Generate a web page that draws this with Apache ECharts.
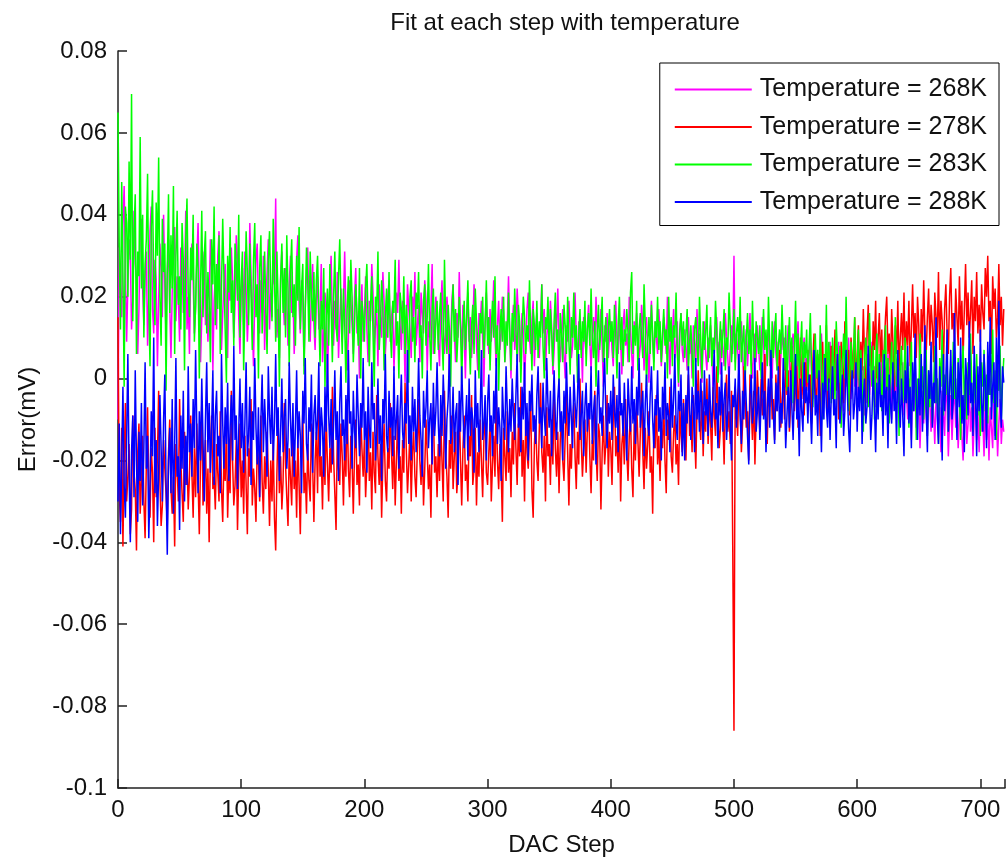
<!DOCTYPE html>
<html>
<head>
<meta charset="utf-8">
<script src="https://cdn.jsdelivr.net/npm/echarts@6/dist/echarts.min.js"></script>
<style>
  html, body { margin: 0; padding: 0; background: #fff; }
  #chart { width: 1008px; height: 862px; }
</style>
</head>
<body>
<div id="chart"></div>
<script>
// Fit error per DAC step, one trace per temperature.
// Listed values are in units of 0.1 uV (1e-4 mV); array index = DAC step.
const UNIT_MV = 1e-4;

const seriesNames = ['Temperature = 268K', 'Temperature = 278K', 'Temperature = 283K', 'Temperature = 288K'];
const seriesColors = ['#ff00ff', '#ff0000', '#00ff00', '#0000ff'];

const xTickLabels = [0, 100, 200, 300, 400, 500, 600, 700];
const yTickLabels = [-0.1, -0.08, -0.06, -0.04, -0.02, 0, 0.02, 0.04, 0.06, 0.08];

const err268 = [
-100,320,210,150,380,470,260,90,230,340,300,120,190,410,280,240,60,170,350,390,
220,130,260,310,80,200,360,420,170,110,290,240,30,190,330,270,150,400,230,100,
260,340,180,50,210,300,370,140,250,190,90,320,280,160,230,410,120,200,60,270,
330,240,110,170,290,380,200,40,150,260,310,130,220,90,180,340,270,20,190,250,
120,300,360,210,70,160,230,280,140,50,260,190,320,240,100,180,350,290,150,60,
210,270,130,310,220,90,170,380,250,140,30,200,290,330,180,110,240,160,300,70,
190,260,340,120,210,150,280,230,440,100,170,50,250,310,200,130,270,190,80,230,
300,160,220,60,140,290,350,180,110,240,200,30,170,260,320,150,90,210,280,130,
70,190,250,120,160,280,40,110,210,170,-10,130,230,300,150,80,190,120,260,50,
140,220,90,180,310,160,20,100,240,190,130,60,200,270,110,150,0,170,230,90,
160,250,120,40,190,140,280,210,80,130,170,30,230,150,100,260,190,60,120,200,
240,90,150,180,20,110,210,160,290,130,70,190,140,-10,100,230,170,120,50,200,
150,260,80,130,180,40,210,160,110,240,190,20,140,100,170,280,60,130,200,150,
90,30,170,240,130,60,110,200,150,-10,80,190,230,120,40,160,100,260,130,70,
180,110,0,140,210,90,150,50,120,230,170,80,20,160,130,190,100,-20,140,210,
120,60,170,90,150,240,100,30,130,190,70,110,200,160,40,90,140,250,110,0,
130,180,70,110,220,150,40,90,160,120,-20,80,170,210,100,60,140,190,30,120,
160,90,50,140,230,110,170,20,100,150,80,190,130,10,70,160,120,220,90,40,
110,170,60,0,130,90,190,120,50,80,160,210,100,30,140,70,110,-10,150,90,
60,130,180,90,20,110,150,70,200,120,40,100,170,80,-20,130,90,160,50,110,
140,70,30,120,190,100,60,150,90,10,130,170,80,110,40,200,120,60,0,140,
90,160,110,50,80,180,130,20,100,150,70,-10,120,190,90,40,140,100,60,170,
110,30,80,150,120,60,200,90,10,130,100,170,50,80,140,-20,110,160,70,40,
120,80,20,150,60,100,0,130,90,40,170,70,110,30,-10,90,140,60,20,100,
50,130,80,-20,60,110,150,40,90,10,120,70,30,160,100,50,-10,80,130,60,
300,40,110,70,10,90,140,60,-20,80,120,30,100,160,50,0,70,110,40,130,
80,20,60,150,100,-30,50,90,120,30,70,0,110,140,60,20,90,-10,50,120,
70,100,10,60,130,40,-20,80,110,50,0,90,140,30,60,-40,70,100,20,50,
-20,60,100,10,-50,40,80,0,30,-70,50,110,20,-30,60,10,-60,40,90,-10,
30,-40,70,20,0,90,-30,50,10,-80,40,60,-10,100,20,-50,30,70,-20,0,
50,-60,20,80,-10,30,-90,10,60,40,-40,0,90,-20,30,-70,50,10,-30,70,
0,-50,40,20,-80,60,-10,30,-100,10,50,-40,20,-60,70,0,-30,40,-90,10,
-40,-100,0,-60,-150,-20,-80,20,-120,-50,-10,-170,-70,-30,-110,10,-90,-140,-40,-60,
-130,-20,-80,-160,-50,0,-110,-70,-180,-30,-90,-140,-10,-60,-190,-100,-40,-150,-70,-20,
-120,-60,-170,-90,-30,-140,-200,-80,-50,-160,-110,-20,-130,-70,-190,-100,-40,-150,-80,-180,
-60,-130,-100,-190,-40,-150,-90,-200,-70,-120,-170,-30,-140,-80,-190,-110,-50,-160,-100,-130
];

const err278 = [
150,-280,-350,-120,-410,-200,-60,-300,-240,-160,-380,-320,-90,-230,-270,-420,-180,-110,-330,-250,
-140,-300,-390,-210,-70,-260,-340,-170,-230,-400,-120,-290,-190,-30,-250,-360,-310,-150,-220,-280,
-360,-180,-100,-270,-330,-240,-410,-160,-220,-300,-50,-200,-280,-350,-130,-260,-190,-320,-240,-90,
-230,-340,-170,-290,-110,-250,-380,-200,-60,-310,-260,-150,-330,-220,-400,-180,-90,-270,-240,-320,
-160,-230,-300,-80,-270,-350,-190,-250,-120,-340,-220,-280,-30,-200,-310,-260,-150,-370,-230,-110,
-290,-200,-330,-140,-260,-380,-170,-240,-50,-310,-220,-270,-350,-160,-200,-300,-90,-250,-330,-190,
-270,-130,-230,-360,-200,-300,-150,-340,-420,-230,-100,-280,-190,-320,-250,-60,-210,-290,-360,-170,
-240,-310,-120,-270,-200,-340,-150,-260,-380,-190,-80,-280,-230,-330,-160,-250,-300,-110,-210,-350,
-200,-130,-280,-60,-240,-190,-320,-150,-260,-90,-210,-300,-170,-230,-20,-190,-280,-370,-140,-220,
-260,-110,-190,-310,-160,-240,-50,-220,-290,-140,-200,-330,-180,-100,-260,-210,-310,-80,-170,-240,
-150,-290,-210,-70,-250,-180,-320,-130,-230,-280,-40,-190,-260,-160,-340,-200,-110,-250,-300,-170,
-220,-60,-180,-270,-140,-310,-200,-90,-250,-190,-330,-150,-230,-10,-170,-280,-210,-120,-300,-180,
-130,-240,-290,-170,-50,-200,-260,-150,-310,-220,-100,-180,-270,-210,-340,-140,-70,-230,-190,-290,
-160,-250,-110,-200,-300,-30,-180,-240,-340,-150,-220,-90,-270,-190,-130,-280,-230,-60,-200,-310,
-170,-90,-250,-210,-300,-140,-190,-40,-260,-220,-120,-310,-180,-240,-100,-200,-290,-150,-70,-230,
-260,-180,-110,-300,-210,-140,-240,-30,-200,-270,-160,-220,-350,-120,-190,-250,-80,-230,-170,-290,
-130,-210,-60,-170,-260,-110,-190,-20,-240,-150,-300,-90,-180,-220,-130,-50,-270,-340,-160,-100,
-200,-250,-120,-10,-180,-230,-140,-300,-70,-190,-160,-260,-100,-210,-30,-170,-240,-130,-280,-150,
-90,-200,-250,-140,-40,-180,-310,-160,-220,-110,-60,-190,-270,-130,-210,0,-150,-240,-170,-100,
-230,-120,-60,-190,-280,-150,-200,-30,-170,-250,-110,-140,-320,-180,-90,-210,-160,-40,-240,-130,
-170,-260,-100,-20,-190,-140,-230,-80,-300,-160,-120,-210,-50,-180,-250,-140,-90,-220,-290,-110,
-200,-60,-150,-240,-130,-10,-180,-270,-120,-220,-160,-80,-230,-190,-330,-110,-170,-40,-210,-140,
-250,-120,-170,-60,-200,-280,-100,-150,-20,-190,-230,-130,-90,-210,-160,-260,-70,-140,-180,-50,
-110,-200,-60,10,-140,-90,-180,-40,-120,-220,-70,20,-100,-150,-30,-190,-80,-130,0,-160,
-60,-110,-200,-20,-90,-140,30,-70,-170,-120,-40,-100,-210,-50,10,-130,-80,-160,-30,-410,
-860,-20,-90,-140,0,-60,-180,-110,30,-50,-120,-80,-200,10,-70,-150,-30,-210,-90,20,
-60,-130,0,-90,-40,60,-110,-160,-20,-70,40,-100,-50,-150,10,-80,-30,70,-120,-60,
-10,-100,50,-40,20,-130,-60,80,10,-80,-20,60,-120,0,100,-50,30,-90,40,-30,
70,-60,10,-110,40,110,-20,-70,60,20,-140,30,90,-40,0,130,-80,50,-10,80,
-50,20,120,-30,60,-100,10,90,40,-60,140,30,-20,70,-90,100,50,0,150,-40,
60,130,-20,90,20,170,50,-60,110,180,30,80,-10,140,70,190,0,100,160,40,
120,-30,80,150,200,60,110,10,170,90,-40,130,60,190,20,100,160,70,210,40,
140,80,190,30,120,230,100,160,50,200,130,0,170,90,240,110,60,150,220,80,
180,130,40,210,150,100,260,70,190,140,20,170,230,110,60,200,270,120,160,90,
220,150,80,250,120,190,50,170,280,130,210,100,160,240,60,200,140,260,110,180,
90,230,160,120,270,200,300,140,190,60,250,170,220,100,150,280,130,200,80,170
];

const err283 = [
650,330,120,480,260,-20,420,380,200,530,290,695,140,360,450,60,310,250,590,220,
400,100,280,340,500,180,30,370,460,240,130,430,300,540,200,80,390,260,330,-30,
270,450,160,350,220,470,60,300,410,180,250,120,380,290,20,340,440,210,150,320,
240,400,90,180,330,270,0,220,410,150,300,360,110,260,190,40,340,230,420,130,
280,170,350,60,220,390,250,120,-10,300,210,370,160,240,80,330,280,190,400,100,
240,310,20,180,360,260,130,330,200,70,290,380,150,230,0,270,350,110,200,310,
170,60,290,360,220,140,390,250,90,310,180,-20,240,330,160,270,100,350,210,30,
260,340,150,230,80,300,190,370,120,220,280,10,170,320,240,90,310,200,140,260,
100,240,300,160,30,190,120,270,-20,150,220,80,280,170,40,200,310,130,90,250,
340,180,60,220,140,-10,170,250,110,290,200,40,130,230,160,80,270,0,190,150,
90,220,280,140,30,180,250,110,-20,200,160,310,70,130,240,180,20,150,220,100,
260,120,50,190,160,290,80,140,0,210,170,110,250,60,180,130,-10,200,240,90,
150,40,210,170,260,100,130,0,190,230,80,150,280,110,20,170,220,60,140,190,
70,160,210,100,20,290,140,60,180,120,-20,150,230,90,170,40,110,200,130,-10,
120,190,70,150,240,100,10,130,180,60,220,140,90,0,160,110,200,50,130,240,
80,150,20,120,190,100,250,60,130,-30,110,170,90,200,40,140,80,210,110,20,
160,90,220,120,40,180,140,-10,100,200,150,60,130,90,240,110,20,170,130,70,
190,50,140,100,230,80,0,150,120,200,60,170,110,30,140,210,90,120,-20,160,
110,40,180,130,60,200,90,10,150,100,210,70,130,-10,110,170,50,140,90,190,
30,120,160,80,220,100,50,140,-20,110,180,70,130,200,40,100,150,10,120,170,
90,140,50,180,110,0,130,200,70,150,30,120,90,170,110,40,210,260,60,130,
80,190,20,120,160,100,50,230,130,-20,90,150,60,180,110,20,140,100,200,70,
140,40,110,170,80,120,0,200,90,150,30,130,100,210,60,-10,120,160,80,140,
50,110,170,20,90,130,60,-20,120,150,80,30,200,100,0,140,70,110,180,40,
90,150,30,100,60,190,120,-10,80,140,50,110,170,20,100,70,210,130,40,90,
170,20,110,150,70,200,40,90,130,-20,100,160,60,120,10,190,80,40,140,100,
60,130,0,100,170,70,120,30,200,90,-10,140,50,110,160,20,80,120,60,180,
90,20,130,-30,80,150,40,100,-60,60,190,30,110,0,70,140,-20,90,50,120,
-10,80,160,20,-70,50,110,0,70,-40,130,40,-100,60,20,180,-30,90,10,-60,
100,30,-50,140,60,-10,80,-120,40,110,0,200,50,-80,20,90,-30,60,150,-40,
30,120,-60,70,0,-130,50,100,10,-70,160,40,-20,80,-100,30,110,-40,60,0,
-80,70,20,130,-30,50,-110,10,90,-50,40,150,-20,60,-140,30,80,-60,0,100,
-50,40,-120,10,90,-80,-20,60,-150,0,-60,110,-30,30,-100,-10,70,-140,20,-70,
40,-110,-30,80,-60,0,-160,50,-20,120,-90,10,-40,60,-130,-10,30,-80,90,-50,
0,-120,50,-30,-150,20,80,-70,10,-100,40,-40,110,-10,-130,30,-60,60,-90,0,
-140,40,-20,70,-80,10,-110,50,-40,0,120,-60,20,-150,30,-30,80,-100,-10,50
];

const err288 = [
-300,-110,-380,-210,-20,-260,-340,-150,60,-230,-400,-180,-90,-290,20,-200,-350,-130,-250,-60,
-310,-170,40,-220,-140,-390,-260,-80,-190,100,-280,-150,-360,-230,-40,-170,-300,-100,10,-250,
-430,-200,-120,-280,-50,-330,-160,50,-240,-190,-370,-90,-220,-30,-300,-140,-260,30,-180,-110,
-240,-50,-170,70,-130,-280,-80,-200,0,-150,-300,-100,40,-180,-60,-230,-120,20,-260,-90,
-30,-190,-140,-280,60,-110,-220,-70,-160,-10,-250,-120,-40,-200,80,-150,-90,-270,-130,0,
-170,-60,-230,-110,40,-190,-140,-20,-260,-80,-150,50,-120,-210,-70,-290,-100,10,-180,-50,
-130,-240,30,-90,-160,-20,-200,-110,60,-140,-70,-250,-130,0,-180,-90,-50,-220,-150,40,
-100,-190,-60,-240,-120,20,-170,-80,-140,-280,-30,-110,50,-160,-200,-70,-130,10,-230,-90,
-40,-150,-100,40,-190,-70,-120,-240,-20,-130,60,-90,-170,-50,-210,-110,20,-150,-80,-250,
-60,30,-140,-100,-200,-40,-160,70,-110,-80,-220,-30,-130,-170,10,-90,-190,-60,-120,50,
-150,-80,-230,-20,-120,-170,40,-100,-60,-200,-130,0,-160,-90,-250,-50,-110,60,-140,-180,
-30,-120,-70,-190,30,-150,-100,-40,-220,-80,10,-130,-170,-60,-110,70,-160,-90,-200,-20,
-130,-50,-180,-110,50,-90,-150,-240,-30,-120,-70,20,-170,-100,-60,-210,-10,-140,-80,40,
-110,-190,-40,-140,10,-80,-220,-100,-50,60,-160,-120,-20,-180,-90,-60,-260,-30,-130,30,
-80,-170,-110,-40,-200,0,-140,-70,-100,-230,20,-120,-60,-180,-90,70,-150,-110,-40,-200,
-60,10,-130,-90,-190,-30,-110,50,-160,-70,-120,-250,-20,-100,-150,30,-80,-180,-50,-130,
0,-90,-150,-40,60,-120,-70,-180,-20,-100,40,-140,-60,-200,-30,-80,10,-130,-90,-160,
-40,30,-110,-70,-170,-10,-90,-140,50,-60,-120,-30,-190,-80,20,-100,-150,-50,0,-130,
-80,-200,-30,-110,40,-70,-140,-20,-100,-170,10,-60,-120,-40,60,-150,-90,-30,-190,-70,
-10,-130,-60,-100,30,-160,-80,-40,-210,-50,20,-110,-70,-140,-20,50,-90,-170,-60,-110,
-30,-150,10,-80,-120,-40,-180,40,-90,-60,-140,-10,-100,-200,0,-70,-130,30,-110,-50,
-160,-20,-90,50,-120,-70,-30,-190,-60,10,-110,-140,-40,30,-100,-170,-50,-90,20,-130,
-70,-200,-20,-100,40,-140,-60,-90,-180,0,-120,-50,60,-110,-150,-30,-80,10,-190,-60,
-200,-40,-110,30,-80,-150,-20,-60,-180,50,-100,-30,-130,0,-70,-160,20,-90,-50,-140,
10,-80,-120,-30,70,-100,-60,-170,-20,-90,40,-130,-50,-10,-150,-80,30,-110,-200,-40,
-70,0,-120,-50,60,-90,-160,-30,-100,20,-60,-140,-210,-40,10,-110,-70,50,-130,-80,
-20,-150,-60,40,-100,-30,-180,-70,0,-120,70,-50,-90,-160,-10,-80,30,-130,-60,-110,
50,-40,-170,-90,-20,-120,20,-70,-150,-30,60,-100,-50,-190,0,-80,-130,40,-60,-20,
-110,10,-70,-160,-30,70,-90,-40,-140,20,-60,-180,-10,-100,50,-70,-120,0,-150,-40,
30,-90,-50,-170,60,-20,-110,-60,10,-140,-80,70,-30,-120,-180,-40,20,-100,-60,40,
-130,-20,-80,50,-160,-50,0,-110,-70,80,-30,-150,-90,20,-60,-180,-10,-100,40,-70,
-40,-140,60,-90,-20,-170,10,-60,-110,40,-80,-30,-160,70,-50,-120,0,-90,-190,20,
-60,80,-110,-20,-170,40,-80,110,-40,-150,0,-90,60,-130,-30,130,-70,-180,20,-50,
90,-120,-10,-60,150,-90,-160,30,-40,-200,60,-80,0,120,-130,-30,70,-100,-50,160,
-20,-150,40,-70,100,-110,-40,-180,50,0,-90,140,-60,-10,-140,80,-30,-190,30,-80,
120,-60,-130,60,-10,-170,90,-40,150,-100,-20,40,-150,100,-70,190,-50,-120,30,-10
];

// Drawing order: 268K first, 288K last (on top)
const traces = [err268, err278, err283, err288];

const FONT = 'Liberation Sans, Arial, Helvetica, sans-serif';
const TEXT = '#111';

const chart = echarts.init(document.getElementById('chart'), null, { renderer: 'canvas' });

const fmtY = v => String(parseFloat(Number(v).toFixed(2)));

chart.setOption({
  animation: false,
  backgroundColor: '#ffffff',
  title: {
    text: 'Fit at each step with temperature',
    left: 560,
    top: 6,
    textAlign: 'center',
    textStyle: { fontFamily: FONT, fontSize: 24, fontWeight: 'normal', color: TEXT }
  },
  legend: {
    orient: 'vertical',
    right: 9,
    top: 63,
    padding: [14, 12, 11, 15],
    itemGap: 12.5,
    itemWidth: 77,
    itemHeight: 2,
    icon: 'rect',
    backgroundColor: '#ffffff',
    borderColor: '#000000',
    borderWidth: 1,
    borderRadius: 0,
    textStyle: { fontFamily: FONT, fontSize: 25, color: TEXT, lineHeight: 24, padding: [0, 0, 0, 3] },
    data: seriesNames
  },
  grid: { left: 118, top: 51, bottom: 70, right: -4, containLabel: false },
  xAxis: {
    type: 'value',
    min: xTickLabels[0],
    max: 720,
    interval: xTickLabels[1] - xTickLabels[0],
    name: 'DAC Step',
    nameLocation: 'middle',
    nameGap: 45,
    nameTextStyle: { fontFamily: FONT, fontSize: 24, color: TEXT },
    axisLine: { show: true, onZero: false, lineStyle: { color: '#222', width: 1.5 } },
    axisTick: { show: true, inside: true, length: 9, lineStyle: { color: '#222', width: 1.5 } },
    axisLabel: {
      fontFamily: FONT, fontSize: 24, color: TEXT, margin: 10,
      formatter: v => (xTickLabels.includes(v) ? String(v) : '')
    },
    splitLine: { show: false }
  },
  yAxis: {
    type: 'value',
    min: yTickLabels[0],
    max: yTickLabels[yTickLabels.length - 1],
    interval: 0.02,
    name: 'Error(mV)',
    nameLocation: 'middle',
    nameGap: 78,
    nameTextStyle: { fontFamily: FONT, fontSize: 24, color: TEXT },
    axisLine: { show: true, onZero: false, lineStyle: { color: '#222', width: 1.5 } },
    axisTick: { show: true, inside: true, length: 9, lineStyle: { color: '#222', width: 1.5 } },
    axisLabel: { fontFamily: FONT, fontSize: 24, color: TEXT, margin: 11, formatter: fmtY },
    splitLine: { show: false }
  },
  series: traces.map((arr, k) => ({
    name: seriesNames[k],
    type: 'line',
    data: arr.map((v, step) => [step, v * UNIT_MV]),
    showSymbol: false,
    symbol: 'none',
    color: seriesColors[k],
    lineStyle: { color: seriesColors[k], width: 1.5 },
    itemStyle: { color: seriesColors[k] },
    emphasis: { disabled: true },
    clip: true,
    z: 2 + k
  }))
});
</script>
</body>
</html>
